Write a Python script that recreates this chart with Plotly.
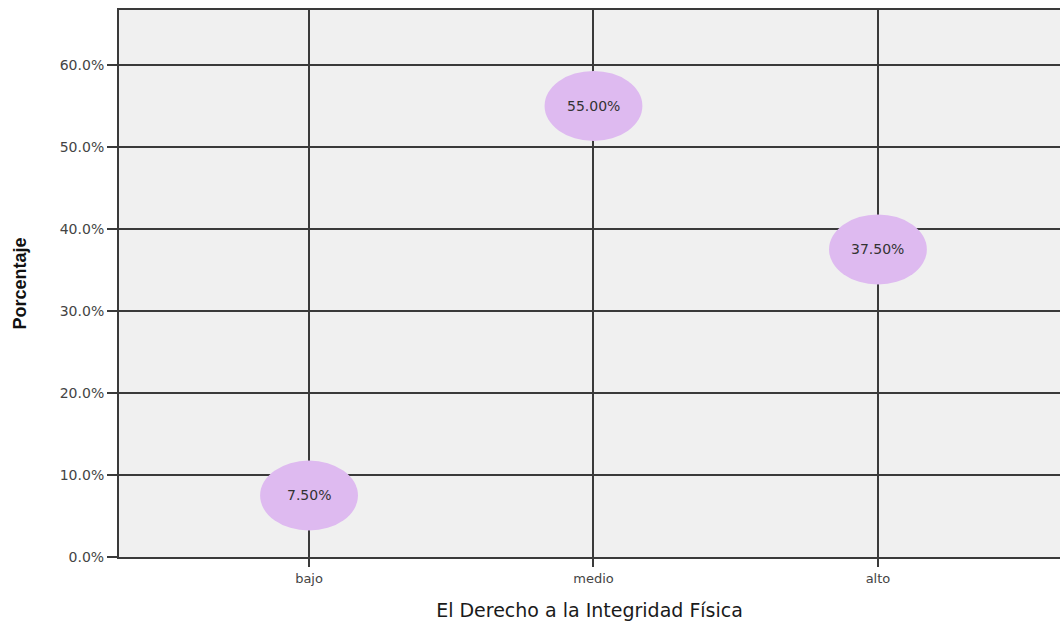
import plotly.graph_objects as go

categories = ["bajo", "medio", "alto"]
percentages = [7.5, 55.0, 37.5]
labels = ["7.50%", "55.00%", "37.50%"]
y_ticks = [0, 10, 20, 30, 40, 50, 60]
y_tick_labels = ["0.0%", "10.0%", "20.0%", "30.0%", "40.0%", "50.0%", "60.0%"]

# ellipse half-sizes in data units
half_w = 0.172
half_h = 4.27
bubble_color = "#DEBAF0"

fig = go.Figure()

fig.add_trace(go.Scatter(
    x=list(range(len(categories))), y=percentages, mode="markers",
    marker=dict(size=1, opacity=0), showlegend=False, hoverinfo="skip"))

for i, v in enumerate(percentages):
    fig.add_shape(type="circle", xref="x", yref="y",
                  x0=i - half_w, x1=i + half_w, y0=v - half_h, y1=v + half_h,
                  fillcolor=bubble_color, line=dict(width=0), layer="above")
    fig.add_annotation(x=i, y=v, xref="x", yref="y", text=labels[i],
                       showarrow=False,
                       font=dict(family="DejaVu Sans", size=14, color="#333333"))

fig.update_layout(
    width=1060, height=621,
    margin=dict(l=119, r=0, t=10, b=64),
    paper_bgcolor="white", plot_bgcolor="#F0F0F0",
    xaxis=dict(
        range=[-0.668, 2.64], tickvals=[0, 1, 2], ticktext=categories,
        showgrid=True, gridcolor="#3a3a3a", gridwidth=2,
        showline=True, linecolor="#3a3a3a", linewidth=2, mirror=True,
        ticks="outside", ticklen=8, tickwidth=2, tickcolor="#3a3a3a",
        tickfont=dict(family="DejaVu Sans", size=13, color="#444444"),
        zeroline=False,
        title=dict(text="El Derecho a la Integridad Física",
                   font=dict(family="DejaVu Sans", size=19, color="#1a1a1a"),
                   standoff=20),
    ),
    yaxis=dict(
        range=[0, 66.7], tickvals=y_ticks, ticktext=y_tick_labels,
        showgrid=True, gridcolor="#3a3a3a", gridwidth=2,
        showline=True, linecolor="#3a3a3a", linewidth=2,
        ticks="outside", ticklen=10, tickwidth=2, tickcolor="#3a3a3a",
        tickfont=dict(family="DejaVu Sans", size=14, color="#444444"),
        zeroline=False,
        title=dict(text="<b>Porcentaje</b>",
                   font=dict(family="Liberation Sans Narrow, Liberation Sans, Arial", size=18, color="#111111"),
                   standoff=28),
    ),
)

fig.write_html("out.html",
               config={"displayModeBar": False},
               post_script="document.body.style.margin='0';"
                           "document.documentElement.style.overflow='hidden';")
